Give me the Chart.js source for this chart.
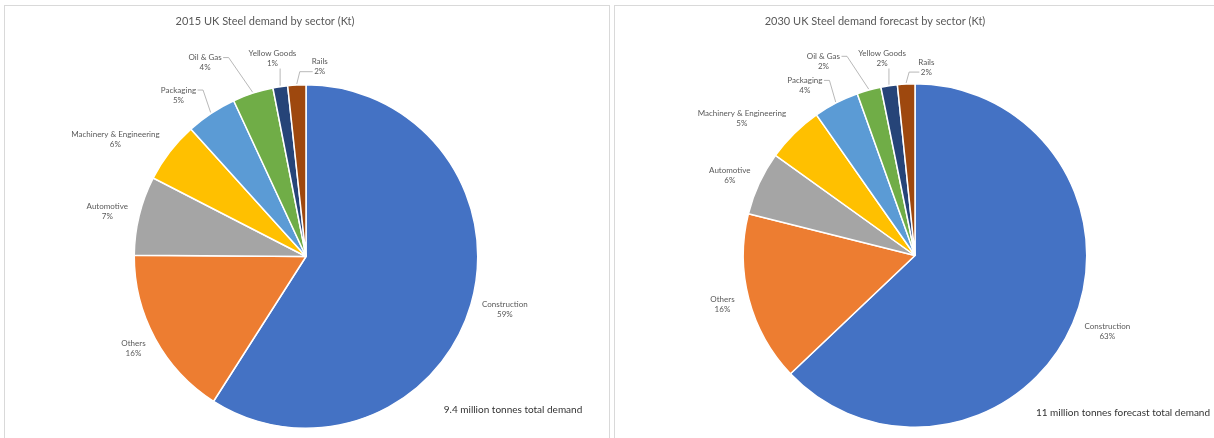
<!DOCTYPE html>
<html>
<head>
<meta charset="utf-8">
<title>UK Steel demand by sector</title>
<script src="https://cdn.jsdelivr.net/npm/chart.js@4.4.1/dist/chart.umd.min.js"></script>
<style>
  html, body { margin: 0; padding: 0; background: #fff; overflow: hidden; }
  .panel { position: absolute; top: 5px; height: 460px; border: 1px solid #d9d9d9; border-bottom: none; background: #fff; }
  #panelLeft { left: 4px; width: 604px; }
  #panelRight { left: 614px; width: 640px; border-right: none; }
  canvas { display: block; }
</style>
</head>
<body>
<div class="panel" id="panelLeft"><canvas id="chart2015" width="604" height="432"></canvas></div>
<div class="panel" id="panelRight"><canvas id="chart2030" width="599" height="432"></canvas></div>

<script>
// 1) Data (Kt per sector, clockwise from the top)
const sectors = ['Construction', 'Others', 'Automotive', 'Machinery & Engineering',
                 'Packaging', 'Oil & Gas', 'Yellow Goods', 'Rails'];
const demand2015 = [5550, 1510, 700, 540, 450, 360, 130, 160];   // 9.4 million tonnes
const demand2030 = [6920, 1760, 660, 590, 470, 250, 170, 180];   // 11 million tonnes

const chartTitles = ['2015 UK Steel demand by sector (Kt)', '2030 UK Steel demand forecast by sector (Kt)'];
const chartNotes  = ['9.4 million tonnes total demand', '11 million tonnes forecast total demand'];

// Excel office palette
const sliceColors = ['#4472C4', '#ED7D31', '#A5A5A5', '#FFC000', '#5B9BD5', '#70AD47', '#264478', '#9E480E'];

// 2) Label placement (degrees off the slice middle, distance as share of radius)
const labelShift2015 = [-1.4, 0.6, -1.1, -6, -4.8, -9.5, -1, 7.2];
const labelDist2015  = [1.198, 1.137, 1.186, 1.302, 1.198, 1.273, 1.169, 1.108];
const labelShift2030 = [-1.8, 0.4, -1.6, -7, -5.6, -9.7, -0.8, 6.4];
const labelDist2030  = [1.203, 1.157, 1.174, 1.285, 1.180, 1.250, 1.163, 1.099];
const hasLeader = [false, false, false, false, true, true, true, true];

// 3) Plugin that draws title, data labels with leader lines, and the note text
const sectorLabels = {
  id: 'sectorLabels',
  afterDatasetsDraw(chart, args, opts) {
    const ctx = chart.ctx;
    const meta = chart.getDatasetMeta(0);
    const values = chart.data.datasets[0].data;
    const total = values.reduce((a, b) => a + b, 0);

    ctx.save();
    ctx.textAlign = 'center';
    ctx.textBaseline = 'middle';

    // title
    ctx.font = '11px Lato';
    ctx.fillStyle = '#595959';
    ctx.fillText(opts.title, opts.titleX, opts.titleY);

    // slice labels
    ctx.font = '8px Lato';
    meta.data.forEach((arc, i) => {
      const mid = (arc.startAngle + arc.endAngle) / 2;
      const a = mid + opts.shift[i] * Math.PI / 180;
      const d = arc.outerRadius * opts.dist[i];
      const cx = arc.x + Math.cos(a) * d;
      const cy = arc.y + Math.sin(a) * d;
      const name = chart.data.labels[i];
      const pct = Math.round(values[i] / total * 100) + '%';

      ctx.fillStyle = '#595959';
      ctx.fillText(name, cx, cy - 5);
      ctx.fillText(pct, cx, cy + 5);

      if (!hasLeader[i]) return;
      // leader line from the label box to the slice edge
      const w = Math.max(ctx.measureText(name).width, ctx.measureText(pct).width);
      const left = cx - w / 2, right = cx + w / 2;
      const ax = arc.x + Math.cos(mid) * (arc.outerRadius + 1);
      const ay = arc.y + Math.sin(mid) * (arc.outerRadius + 1);
      ctx.strokeStyle = '#a6a6a6';
      ctx.lineWidth = 0.8;
      ctx.beginPath();
      if (ax > right + 2) {
        ctx.moveTo(right + 1.5, cy - 5);
        ctx.lineTo(right + 7, cy - 5);
      } else if (ax < left - 2) {
        const pw = ctx.measureText(pct).width;
        ctx.moveTo(cx - pw / 2 - 1.5, cy + 5);
        ctx.lineTo(ax + 3, cy + 5);
      } else {
        ctx.moveTo(ax, cy + 10);
      }
      ctx.lineTo(ax, ay);
      ctx.stroke();
    });

    // text box with total demand
    ctx.font = '10px Lato';
    ctx.fillStyle = '#333333';
    ctx.fillText(opts.note, opts.noteX, opts.noteY);
    ctx.restore();
  }
};

// 4) Build one pie chart
function makePie(canvasId, values, title, note, shift, dist, padding, noteY) {
  const ctx = document.getElementById(canvasId).getContext('2d');
  return new Chart(ctx, {
    type: 'pie',
    data: {
      labels: sectors,
      datasets: [{
        data: values,
        backgroundColor: sliceColors,
        borderColor: '#ffffff',
        borderWidth: 1.5
      }]
    },
    options: {
      responsive: false,
      animation: false,
      layout: { padding },
      plugins: {
        legend: { display: false },
        tooltip: { enabled: false },
        title: { display: false },
        sectorLabels: { title, note, shift, dist, titleX: 260, titleY: 15, noteX: 508, noteY }
      }
    },
    plugins: [sectorLabels]
  });
}

document.addEventListener('DOMContentLoaded', () => {
  makePie('chart2015', demand2015, chartTitles[0], chartNotes[0], labelShift2015, labelDist2015,
          { top: 78, bottom: 9, left: 0, right: 2 }, 404);
  makePie('chart2030', demand2030, chartTitles[1], chartNotes[1], labelShift2030, labelDist2030,
          { top: 77, bottom: 10, left: 1, right: 0 }, 407);
});
</script>
</body>
</html>
